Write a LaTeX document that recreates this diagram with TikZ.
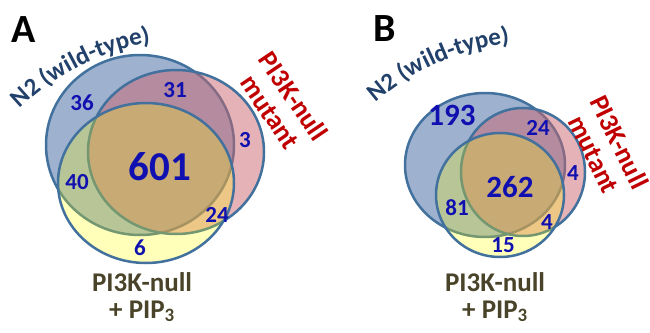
\documentclass[tikz,border=0pt]{standalone}
\usepackage{fontspec}
\setmainfont{Carlito}
\newfontface\wildface{Carlito Bold}
\usetikzlibrary{decorations.text}
\definecolor{cline}{HTML}{41719C}
\definecolor{cblue}{HTML}{3D65A1}
\definecolor{cred}{HTML}{CC6670}
\definecolor{cyellow}{HTML}{FFFF00}
\definecolor{cnum}{HTML}{1010B0}
\definecolor{cwild}{HTML}{21406A}
\definecolor{cmut}{HTML}{C00000}
\definecolor{cpip}{HTML}{494429}
\tikzset{
  venn/.style={draw=cline, line width=2.5pt, fill=#1, fill opacity=0.5},
  count/.style={text=cnum, font=\bfseries\fontsize{23}{23}\selectfont, inner sep=0pt},
  bigcount/.style={count, font=\bfseries\fontsize{#1}{#1}\selectfont},
  panel/.style={font=\bfseries\fontsize{40}{40}\selectfont, inner sep=0pt},
  mutlabel/.style={text=cmut, font=\bfseries\fontsize{27}{28}\selectfont, align=center, inner sep=0pt},
  piplabel/.style={text=cpip, font=\bfseries\fontsize{27}{27}\selectfont, align=center, inner sep=0pt},
  wildlabel/.style={decorate, decoration={text effects along path, text={N2 (wild-type)},
    text effects/.cd, text along path, characters={text=cwild, inner sep=0pt,
    font=\wildface\fontsize{25}{25}\selectfont, anchor=base}}},
}
\begin{document}
\begin{tikzpicture}[x=1pt, y=-1pt]
  \useasboundingbox (0,0) rectangle (650,332);
  % A
  \filldraw[venn=cblue] (140,145) ellipse [x radius=94, y radius=90];
  \filldraw[venn=cred] (176,152) ellipse [x radius=88, y radius=82];
  \filldraw[venn=cyellow, fill opacity=0.27] (146,183) ellipse [x radius=88, y radius=80];
  \node[panel] (lblA) at (24,30) {A};
  \path[wildlabel] (193.6,288.9) ++(226:250) arc[start angle=226, end angle=266.5, radius=250];
  \node[mutlabel, rotate=-56] (mutA) at (282,104) {PI3K-null\\mutant};
  \node[piplabel] (pipA) at (142,297) {PI3K-null\\+ PIP\textsubscript{3}};
  \node[count] (a36) at (82,103) {36};
  \node[count] (a31) at (175,90) {31};
  \node[count] (a3) at (245,140) {3};
  \node[bigcount=41] (a601) at (160,167) {601};
  \node[count] (a40) at (77,182) {40};
  \node[count] (a24) at (217,215) {24};
  \node[count] (a6) at (140,248) {6};
  % B
  \filldraw[venn=cblue] (485,165) ellipse [x radius=80, y radius=72];
  \filldraw[venn=cred] (523,172) ellipse [x radius=62, y radius=64];
  \filldraw[venn=cyellow, fill opacity=0.27] (500,195) ellipse [x radius=64, y radius=62];
  \node[panel] (lblB) at (385,29) {B};
  \path[wildlabel] (539.7,291.3) ++(229:250) arc[start angle=229, end angle=270, radius=250];
  \node[mutlabel, rotate=-64] (mutB) at (607,148) {PI3K-null\\mutant};
  \node[piplabel] (pipB) at (495,297) {PI3K-null\\+ PIP\textsubscript{3}};
  \node[bigcount=31] (b193) at (452,115) {193};
  \node[count] (b24) at (538,128) {24};
  \node[count] (b4a) at (573,173) {4};
  \node[bigcount=31] (b262) at (510,187) {262};
  \node[count] (b81) at (457,208) {81};
  \node[count] (b4b) at (547,222) {4};
  \node[count] (b15) at (503,245) {15};
\end{tikzpicture}
\end{document}
